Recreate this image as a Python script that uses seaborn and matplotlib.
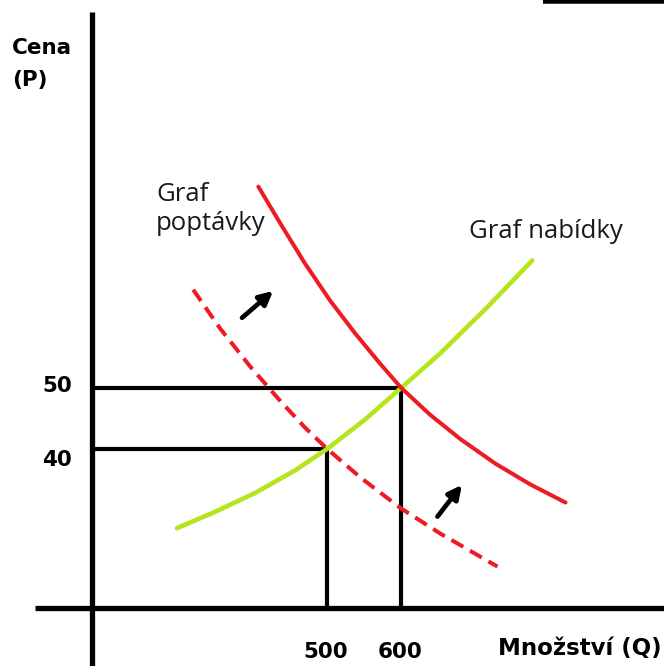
import numpy as np
import pandas as pd
import seaborn as sns
import matplotlib.pyplot as plt

sns.set_style("white")
plt.rcParams['font.family'] = ['DejaVu Sans']

# Data
demand_q = [407, 437, 470, 504, 538, 572, 600, 639, 680, 727, 774, 822]
demand_p = [83, 76.9, 70.4, 64.3, 58.9, 53.9, 50, 45.6, 41.6, 37.6, 34.2, 31.2]

supply_q = [297, 349, 403, 457, 500, 551, 600, 653, 716, 777]
supply_p = [27, 29.7, 32.8, 36.5, 40, 44.8, 50, 55.7, 63.2, 70.9]

demand2_q = [319, 355, 396, 437, 470, 500, 545, 599, 653, 730]
demand2_p = [66.1, 59.8, 53.5, 47.8, 43.5, 40, 35.3, 30.3, 26.1, 20.7]

eq_q = [600, 500]
eq_p = [50, 40]
eq_labels_q = ['600', '500']
eq_labels_p = ['50', '40']

# shift arrows
arrow_start_q = [385, 649]
arrow_start_p = [61.5, 28.9]
arrow_end_q = [427, 682]
arrow_end_p = [65.9, 34.1]

# where the drawn axes cross
origin_q = 182
origin_p = 13.9
XLIM = (58, 955)
YLIM = (4.4, 113.6)

fig = plt.figure(figsize=(6.64, 6.66), dpi=100)
ax = fig.add_axes([0, 0, 1, 1])

# axis lines
ax.plot([105, XLIM[1]], [origin_p, origin_p], color='black', lw=3.8, solid_capstyle='butt')
ax.plot([origin_q, origin_q], [YLIM[0], 111.6], color='black', lw=3.8, solid_capstyle='butt')

# reference lines at the two equilibria
for q, p in zip(eq_q, eq_p):
    ax.plot([origin_q, q], [p, p], color='black', lw=3.0, solid_capstyle='butt')
    ax.plot([q, q], [origin_p, p], color='black', lw=3.0, solid_capstyle='butt')

df_d = pd.DataFrame({'q': demand_q, 'p': demand_p})
df_s = pd.DataFrame({'q': supply_q, 'p': supply_p})
df_d2 = pd.DataFrame({'q': demand2_q, 'p': demand2_p})

sns.lineplot(data=df_s, x='q', y='p', ax=ax, color='#b5e61d', lw=3.3, sort=False,
             solid_joinstyle='round')
sns.lineplot(data=df_d, x='q', y='p', ax=ax, color='#ed1c24', lw=2.9, sort=False,
             solid_joinstyle='round')
sns.lineplot(data=df_d2, x='q', y='p', ax=ax, color='#ed1c24', lw=2.9, sort=False,
             linestyle=(0, (3.4, 1.9)))

for sq, sp, eq_, ep in zip(arrow_start_q, arrow_start_p, arrow_end_q, arrow_end_p):
    ax.annotate('', xy=(eq_, ep), xytext=(sq, sp),
                arrowprops=dict(arrowstyle='-|>', color='black', lw=3.4,
                                mutation_scale=20, shrinkA=0, shrinkB=0))

ax.set_xlim(*XLIM)
ax.set_ylim(*YLIM)
ax.axis('off')

bold = dict(fontweight='bold', fontsize=15.5, color='black')
ax.text(12 / 664, 1 - 64 / 666, 'Cena\n(P)', transform=ax.transAxes, ha='left', va='center',
        linespacing=1.75, **bold)
ax.text(72 / 664, 1 - 386 / 666, eq_labels_p[0], transform=ax.transAxes,
        ha='right', va='center', **bold)
ax.text(72 / 664, 1 - 460 / 666, eq_labels_p[1], transform=ax.transAxes,
        ha='right', va='center', **bold)
for q, lab in zip(eq_q, eq_labels_q):
    ax.text(q - 2, 1 - 652 / 666, lab, transform=ax.get_xaxis_transform(),
            ha='center', va='center', **bold)
ax.text(662 / 664, 1 - 649 / 666, 'Množství (Q)', transform=ax.transAxes,
        ha='right', va='center', fontweight='bold', fontsize=16.5, color='black')

reg = dict(fontsize=18.5, color='#1a1a1a', family=['Open Sans', 'DejaVu Sans'])
ax.text(156 / 664, 1 - 209 / 666, 'Graf\npoptávky', transform=ax.transAxes,
        ha='left', va='center', linespacing=1.25, **reg)
ax.text(469 / 664, 1 - 232 / 666, 'Graf nabídky', transform=ax.transAxes,
        ha='left', va='center', **reg)

# cropped bar at the top right
ax.plot([543 / 664, 1], [0.998, 0.998], transform=ax.transAxes, color='black', lw=4,
        solid_capstyle='butt')

fig.savefig('out.png', dpi=100)
